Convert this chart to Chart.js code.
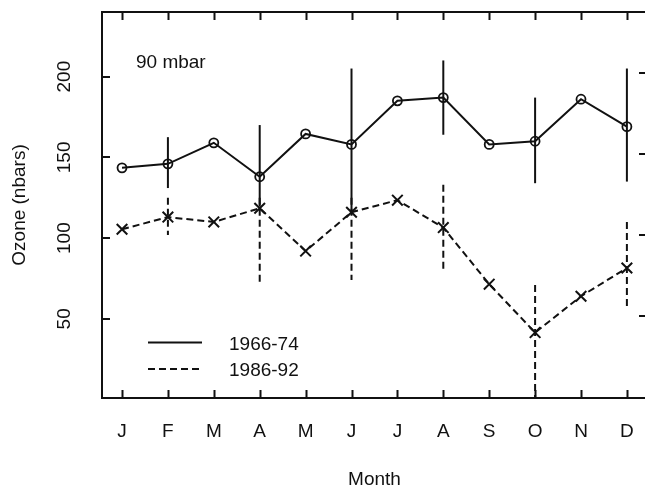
<!DOCTYPE html>
<html>
<head>
<meta charset="utf-8">
<script src="https://cdn.jsdelivr.net/npm/chart.js@4.4.1/dist/chart.umd.min.js"></script>
<style>
  html, body { margin: 0; padding: 0; background: #fff; overflow: hidden; }
  #wrap { width: 660px; height: 491px; }
</style>
</head>
<body>
<div id="wrap"><canvas id="ozoneChart" width="660" height="491"></canvas></div>
<script>
const months = ["J", "F", "M", "A", "M", "J", "J", "A", "S", "O", "N", "D"];
const seriesLabels = ["1966-74", "1986-92"];
const ozone6674 = [143.5, 146, 159, 138, 164.5, 158, 185, 187, 158, 160, 186, 169];
const ozone8692 = [105.5, 113, 110, 118.5, 92, 116, 123.5, 106.5, 71.5, 41.5, 64, 81.5];
// error bar ends (null = no bar)
const hi6674 = [null, 162.5, null, 170, null, 205, null, 210, null, 187, null, 205];
const lo6674 = [null, 131, null, 119.5, null, 116.5, null, 164, null, 134, null, 135];
const hi8692 = [null, 125, null, 125, null, 125, null, 133, null, 71, null, 110];
const lo8692 = [null, 102, null, 71, null, 74, null, 80, null, 1, null, 57];
const yTicks = [50, 100, 150, 200];
const panelLabel = "90 mbar";

const INK = "#111";
const FONT = "'Liberation Sans', Arial, Helvetica, sans-serif";
const DASH = [7, 4];

const toPoints = (arr) => arr.map((v, i) => ({ x: i, y: v }));

/* ------ extras: inward ticks, error bars, labels, legend ------ */
const extras = {
    id: "extras",
    beforeDatasetsDraw(chart) {
        const { ctx, scales: { x, y } } = chart;
        const bars = (hi, lo, dash) => {
            ctx.save();
            ctx.strokeStyle = INK;
            ctx.lineWidth = 2;
            ctx.setLineDash(dash);
            hi.forEach((h, i) => {
                if (h === null) return;
                const px = x.getPixelForValue(i);
                ctx.beginPath();
                ctx.moveTo(px, y.getPixelForValue(h));
                ctx.lineTo(px, y.getPixelForValue(lo[i]));
                ctx.stroke();
            });
            ctx.restore();
        };
        bars(hi8692, lo8692, DASH);
        bars(hi6674, lo6674, []);
    },
    afterDraw(chart) {
        const { ctx, chartArea: a, scales: { x, y, y2 } } = chart;
        ctx.save();
        ctx.strokeStyle = INK;
        ctx.fillStyle = INK;
        ctx.lineWidth = 2;

        // inward tick marks
        ctx.beginPath();
        months.forEach((_, i) => {
            const px = Math.round(x.getPixelForValue(i)) + 0.5;
            ctx.moveTo(px, a.bottom); ctx.lineTo(px, a.bottom - 8);
            ctx.moveTo(px, a.top); ctx.lineTo(px, a.top + 8);
        });
        yTicks.forEach((v) => {
            const py = Math.round(y.getPixelForValue(v));
            ctx.moveTo(a.left, py); ctx.lineTo(a.left + 8, py);
            const py2 = Math.round(y2.getPixelForValue(v));
            ctx.moveTo(a.right, py2); ctx.lineTo(a.right - 8, py2);
        });
        ctx.stroke();

        // rotated y tick labels
        ctx.font = "19px " + FONT;
        ctx.textAlign = "center";
        ctx.textBaseline = "middle";
        yTicks.forEach((v) => {
            ctx.save();
            ctx.translate(65, y.getPixelForValue(v));
            ctx.rotate(-Math.PI / 2);
            ctx.fillText(String(v), 0, 0);
            ctx.restore();
        });

        // panel label
        ctx.textAlign = "left";
        ctx.textBaseline = "alphabetic";
        ctx.fillText(panelLabel, 136, 68);

        // legend
        const rows = [342.5, 369];
        rows.forEach((ly, k) => {
            ctx.beginPath();
            ctx.setLineDash(k === 0 ? [] : DASH);
            ctx.moveTo(148, ly); ctx.lineTo(202, ly);
            ctx.stroke();
            ctx.setLineDash([]);
            ctx.fillText(seriesLabels[k], 229, ly + 7);
        });
        ctx.restore();
    },
};

const xRange = { min: -0.436, max: 11.438 };

new Chart(document.getElementById("ozoneChart"), {
    type: "line",
    data: {
        datasets: [
            {
                label: seriesLabels[0],
                data: toPoints(ozone6674),
                borderColor: INK,
                borderWidth: 2,
                pointStyle: "circle",
                pointRadius: 4.5,
                pointBorderWidth: 1.8,
                pointBorderColor: INK,
                pointBackgroundColor: "rgba(0,0,0,0)",
                tension: 0,
            },
            {
                label: seriesLabels[1],
                data: toPoints(ozone8692),
                borderColor: INK,
                borderWidth: 2,
                borderDash: DASH,
                pointStyle: "crossRot",
                pointRadius: 7.5,
                pointBorderWidth: 2,
                pointBorderColor: INK,
                tension: 0,
            },
        ],
    },
    options: {
        responsive: false,
        animation: false,
        devicePixelRatio: 1,
        layout: { padding: 0 },
        plugins: { legend: { display: false }, tooltip: { enabled: false } },
        scales: {
            x: {
                type: "linear",
                position: "bottom",
                ...xRange,
                afterBuildTicks: (s) => { s.ticks = months.map((_, i) => ({ value: i })); },
                afterFit: (s) => { s.height = 93; },
                grid: { display: false, drawTicks: false },
                border: { display: true, color: INK, width: 2 },
                ticks: {
                    autoSkip: false,
                    maxRotation: 0,
                    padding: 22,
                    color: INK,
                    font: { family: FONT, size: 19 },
                    callback: (v) => months[v] ?? "",
                },
                title: {
                    display: true,
                    text: "Month",
                    color: INK,
                    font: { family: FONT, size: 19 },
                    padding: { top: 0, bottom: 0 },
                },
            },
            x2: {
                type: "linear",
                position: "top",
                ...xRange,
                afterFit: (s) => { s.height = 12; },
                grid: { display: false, drawTicks: false },
                border: { display: true, color: INK, width: 2 },
                ticks: { display: false },
            },
            y: {
                position: "left",
                min: 1,
                max: 240,
                afterBuildTicks: (s) => { s.ticks = yTicks.map((v) => ({ value: v })); },
                afterFit: (s) => { s.width = 102; },
                grid: { display: false, drawTicks: false },
                border: { display: true, color: INK, width: 2 },
                ticks: { display: false },
                title: {
                    display: true,
                    text: "Ozone (nbars)",
                    color: INK,
                    font: { family: FONT, size: 19 },
                    padding: { top: 8, bottom: 0 },
                },
            },
            y2: {
                position: "right",
                min: -1,
                max: 238,
                afterFit: (s) => { s.width = 13; },
                grid: { display: false, drawTicks: false },
                border: { display: true, color: INK, width: 2 },
                ticks: { display: false },
            },
        },
    },
    plugins: [extras],
});
</script>
</body>
</html>
